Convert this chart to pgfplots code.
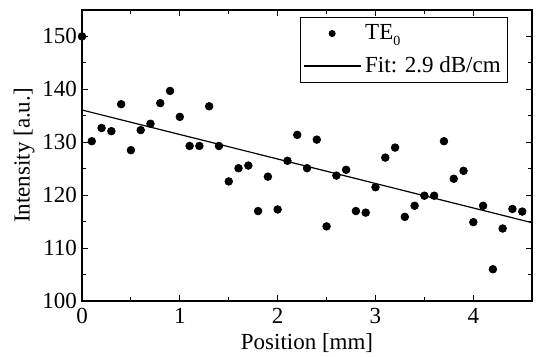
\documentclass[border=0pt]{standalone}
\usepackage{fontspec}
\setmainfont{Liberation Serif}
\usepackage{pgfplots}
\pgfplotsset{compat=1.18}
\begin{document}
\begin{tikzpicture}
\begin{axis}[
  scale only axis,
  width=225pt, height=145.5pt,
  xmin=0, xmax=4.6, ymin=100, ymax=155,
  xtick={0,1,2,3,4}, ytick={100,110,120,130,140,150},
  minor x tick num=1, minor y tick num=1,
  tick align=inside, tick pos=both,
  major tick length=3pt, minor tick length=1.8pt,
  axis line style={line width=0.7pt},
  every tick/.style={black, line width=0.5pt},
  /pgf/number format/assume math mode=true,
  tick label style={font=\fontsize{11.5}{13}\selectfont},
  yticklabel style={xshift=1pt},
  xlabel={Position [mm]}, ylabel={Intensity [a.u.]},
  label style={font=\fontsize{11.5}{13}\selectfont},
  xlabel style={yshift=2pt},
  ylabel style={yshift=-3pt},
  legend style={at={(0.947,0.976)}, anchor=north east, draw=black, line width=0.5pt,
    font=\fontsize{11.5}{13}\selectfont, inner sep=1.5pt, row sep=3pt},
  legend cell align=left,
  legend image code/.code={\draw[#1] (0cm,0cm) -- (1.0cm,0cm);},
]
\addplot[only marks, mark=*, mark size=1.9pt, black,
  legend image code/.code={\draw[black,fill=black] (0.5cm,0cm) circle (1.5pt);}]
 coordinates {
 (0,150.0) (0.1,130.2) (0.2,132.7) (0.3,132.1) (0.4,137.2) (0.5,128.5)
 (0.6,132.3) (0.7,133.5) (0.8,137.4) (0.9,139.7) (1.0,134.8) (1.1,129.3)
 (1.2,129.3) (1.3,136.8) (1.4,129.3) (1.5,122.6) (1.6,125.1) (1.7,125.6)
 (1.8,117.0) (1.9,123.5) (2.0,117.3) (2.1,126.5) (2.2,131.4) (2.3,125.1)
 (2.4,130.5) (2.5,114.1) (2.6,123.7) (2.7,124.8) (2.8,117.0) (2.9,116.7)
 (3.0,121.5) (3.1,127.1) (3.2,129.0) (3.3,115.9) (3.4,118.0) (3.5,119.9)
 (3.6,119.9) (3.7,130.2) (3.8,123.1) (3.9,124.6) (4.0,114.9) (4.1,118.0)
 (4.2,106.0) (4.3,113.7) (4.4,117.4) (4.5,116.9)
 };
\addlegendentry{TE$_{\raisebox{-1pt}{\scriptsize 0}}$}
\addplot[black, line width=0.6pt, no marks] coordinates {(0,136.1) (4.6,114.8)};
\addlegendentry{Fit: 2.9 dB/cm}
\end{axis}
\pgfresetboundingbox
\path (current axis.south west) ++(-41pt,-27.5pt) coordinate (bl);
\path (current axis.north east) ++(2pt,5pt) coordinate (tr);
\path (bl) rectangle (tr);
\end{tikzpicture}
\end{document}
